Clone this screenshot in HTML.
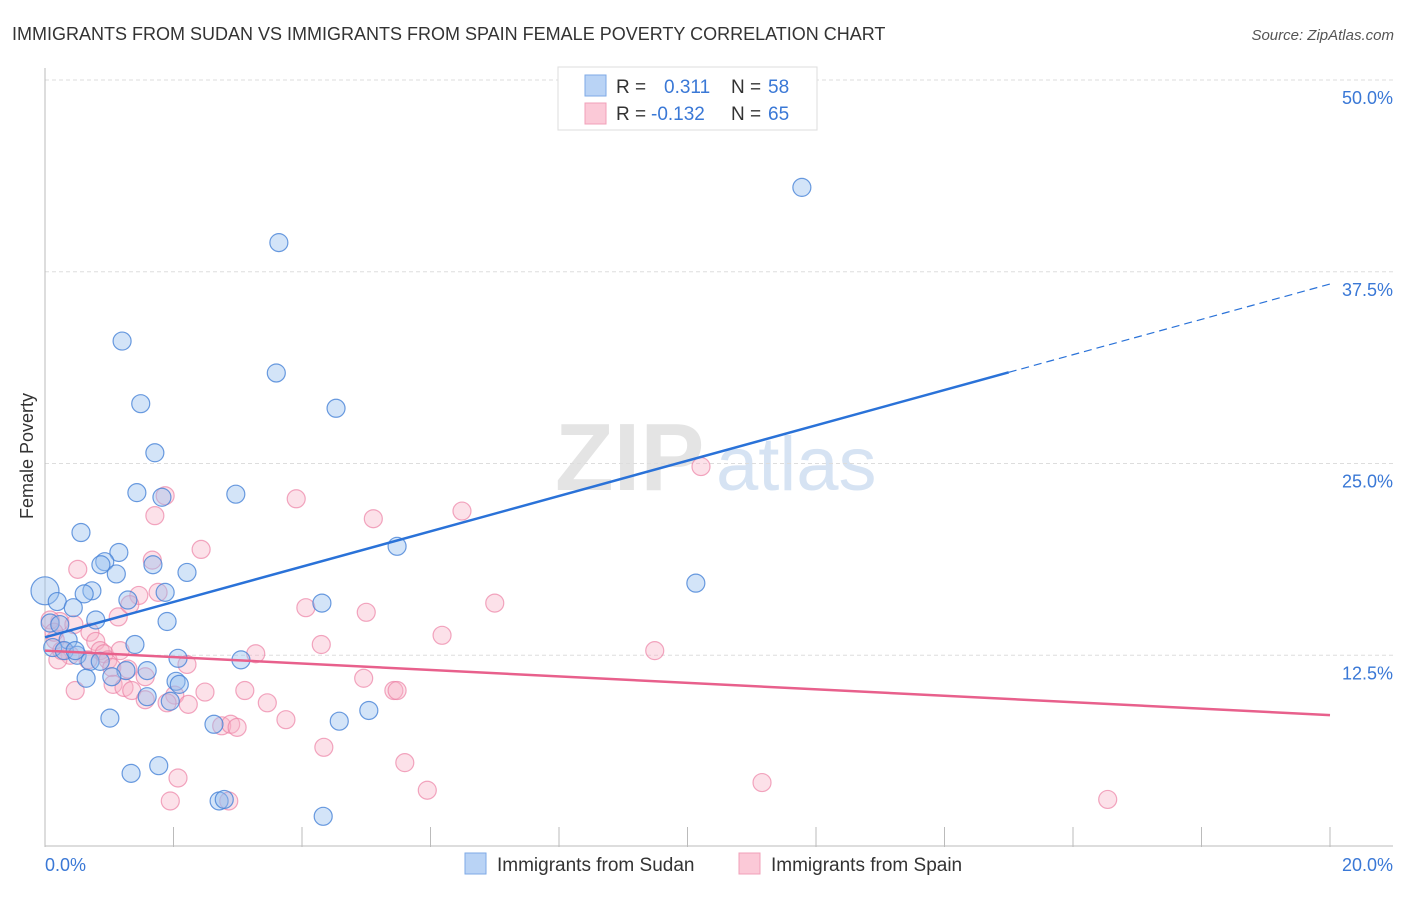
<!DOCTYPE html>
<html><head><meta charset="utf-8"><style>
body{margin:0;background:#fff;font-family:"Liberation Sans",sans-serif;}
svg text{font-family:"Liberation Sans",sans-serif;}
</style></head><body>
<svg id="chart" width="1406" height="892" viewBox="0 0 1406 892">
<text x="12" y="40" font-size="18" fill="#333">IMMIGRANTS FROM SUDAN VS IMMIGRANTS FROM SPAIN FEMALE POVERTY CORRELATION CHART</text>
<text x="1394" y="40" font-size="15" fill="#555" font-style="italic" text-anchor="end">Source: ZipAtlas.com</text>
<text x="33" y="456" font-size="18" fill="#333" text-anchor="middle" transform="rotate(-90 33 456)">Female Poverty</text>
<g>
<text x="555" y="490" font-size="96" fill="#e4e4e4" font-family="Liberation Serif" font-weight="bold">ZIP</text>
<text x="716" y="490" font-size="76" fill="#d6e3f3">atlas</text>
</g>
<g id="grid"></g>
<g id="axes"></g>
<g id="pts"></g>
<g id="lines"></g>
<g>
<rect x="558" y="67" width="259" height="63" fill="#fff" stroke="#ddd"/>
<rect x="585" y="75" width="21" height="21" fill="#b9d3f5" stroke="#7ea9e6"/>
<rect x="585" y="103" width="21" height="21" fill="#fbc9d7" stroke="#f0a0b8"/>
<text x="616" y="93" font-size="19" fill="#333">R =</text><text x="664" y="93" font-size="19" fill="#3a78d6">0.311</text>
<text x="731" y="93" font-size="19" fill="#333">N =</text><text x="768" y="93" font-size="19" fill="#3a78d6">58</text>
<text x="616" y="120" font-size="19" fill="#333">R =</text><text x="651" y="120" font-size="19" fill="#3a78d6">-0.132</text>
<text x="731" y="120" font-size="19" fill="#333">N =</text><text x="768" y="120" font-size="19" fill="#3a78d6">65</text>
</g>
<g>
<rect x="465" y="853" width="21" height="21" fill="#b9d3f5" stroke="#7ea9e6"/>
<text x="497" y="871" font-size="19" fill="#333">Immigrants from Sudan</text>
<rect x="739" y="853" width="21" height="21" fill="#fbc9d7" stroke="#f0a0b8"/>
<text x="771" y="871" font-size="19" fill="#333">Immigrants from Spain</text>
</g>
</svg>
<script>
const yTicks=[12.5,25,37.5,50];
const yTickLabels=["12.5%","25.0%","37.5%","50.0%"];
const xTickLabels=["0.0%","20.0%"];
const sudanX=[11.78,3.64,1.20,3.60,1.49,4.53,1.71,1.43,2.97,1.82,0.56,5.48,1.15,0.93,0.87,1.11,2.21,10.13,0,0.73,0.61,0.19,1.29,4.31,0.44,1.87,1.68,0.79,1.90,0.08,0.23,1.40,0.36,0.12,0.30,0.50,0.70,0.86,2.07,3.05,1.26,1.59,1.04,0.64,2.04,2.09,1.59,1.95,1.01,2.63,4.58,5.04,1.34,1.77,2.71,2.79,4.33,0.47];
const sudanY=[43.0,39.4,32.98,30.9,28.9,28.6,25.7,23.1,23.0,22.8,20.5,19.6,19.2,18.6,18.4,17.8,17.9,17.2,16.7,16.7,16.5,16.0,16.1,15.9,15.6,16.6,18.4,14.8,14.7,14.6,14.5,13.2,13.5,13.0,12.8,12.5,12.1,12.1,12.3,12.2,11.5,11.5,11.1,11.0,10.8,10.6,9.8,9.5,8.4,8.0,8.2,8.9,4.8,5.3,3.0,3.1,2.0,12.8];
const spainX=[10.21,1.87,3.91,1.71,5.11,6.49,2.43,1.67,0.51,1.76,1.46,4.06,5.00,7.00,1.14,1.32,6.18,0.70,0.79,4.30,3.28,9.49,0.23,0.08,0.16,0.86,0.92,0.98,0.39,0.20,0.67,2.21,1.04,1.29,1.56,1.06,1.23,1.35,2.02,2.49,3.11,1.56,1.90,2.23,3.46,4.96,5.43,5.48,3.75,2.75,2.89,2.99,4.34,5.60,2.07,5.95,11.16,1.95,2.86,16.54,0.47,0.45,1.17,0.26,0.14];
const spainY=[24.8,22.9,22.7,21.6,21.4,21.9,19.4,18.7,18.1,16.6,16.4,15.6,15.3,15.9,15.0,15.8,13.8,14.0,13.4,13.2,12.6,12.8,14.7,14.8,13.5,12.8,12.6,12.2,12.5,12.2,12.2,11.9,11.7,11.6,11.1,10.6,10.4,10.2,9.9,10.1,10.2,9.6,9.4,9.3,9.4,11.0,10.2,10.2,8.3,7.9,8.0,7.8,6.5,5.5,4.5,3.7,4.2,3.0,3.0,3.1,10.2,14.5,12.8,12.8,14.0];
const sudanTrend=[13.67,36.7];
const spainTrend=[12.8,8.6];
const sudanSolidEnd=15.0;

const NS="http://www.w3.org/2000/svg";
const X0=45,X1=1330,Y0=847,Y50=80;
const sx=v=>X0+(X1-X0)*v/20;
const sy=v=>Y0-(Y0-Y50)*v/50;
function mk(tag,attrs,parent){const e=document.createElementNS(NS,tag);for(const k in attrs)e.setAttribute(k,attrs[k]);parent.appendChild(e);return e;}
const grid=document.getElementById('grid'),axes=document.getElementById('axes'),pts=document.getElementById('pts'),lines=document.getElementById('lines');
yTicks.forEach((t,i)=>{
 const l=mk('line',{x1:X0,x2:1393,y1:sy(t),y2:sy(t),stroke:'#ddd','stroke-dasharray':'4,3'},grid);
 
 
 const tx=mk('text',{x:1393,y:sy(t)+24,'font-size':18,fill:'#3a78d6','text-anchor':'end'},axes);
 tx.textContent=yTickLabels[i];
 
 
});
const ya=mk('line',{x1:X0,x2:X0,y1:68,y2:Y0,stroke:'#bbb'},axes);


const xa=mk('line',{x1:X0,x2:1393,y1:Y0-1,y2:Y0-1,stroke:'#bbb'},axes);


for(let i=0;i<=10;i++){
 const t=mk('line',{x1:sx(i*2),x2:sx(i*2),y1:Y0-20,y2:Y0,stroke:'#bbb'},axes);
 
 
}
[[0,'start'],[20,'end']].forEach((p,i)=>{
 const tx=mk('text',{x:p[0]==0?X0:1393,y:871,'font-size':18,fill:'#3a78d6','text-anchor':p[1]},axes);
 tx.textContent=xTickLabels[i];
 
 
});
function dots(xs,ys,fill,stroke,name){
 xs.forEach((x,i)=>{
  const r=(x===0&&name==='sudan-point')?14:9;
  const c=mk('circle',{cx:sx(x),cy:sy(ys[i]),r:r,fill:fill,stroke:stroke,'stroke-width':1.2},pts);
  
  
 });
}
dots(spainX,spainY,'rgba(248,175,198,0.38)','rgba(236,130,165,0.7)','spain-point');
dots(sudanX,sudanY,'rgba(150,190,238,0.42)','rgba(70,130,215,0.8)','sudan-point');
const bAt=v=>sudanTrend[0]+(sudanTrend[1]-sudanTrend[0])*v/20;
const l1=mk('line',{x1:sx(0),y1:sy(bAt(0)),x2:sx(sudanSolidEnd),y2:sy(bAt(sudanSolidEnd)),stroke:'#2a72d8','stroke-width':2.5},lines);


const l2=mk('line',{x1:sx(sudanSolidEnd),y1:sy(bAt(sudanSolidEnd)),x2:sx(20),y2:sy(bAt(20)),stroke:'#2a72d8','stroke-width':1.2,'stroke-dasharray':'8,5'},lines);


const l3=mk('line',{x1:sx(0),y1:sy(spainTrend[0]),x2:sx(20),y2:sy(spainTrend[1]),stroke:'#e8608c','stroke-width':2.5},lines);


</script>
</body></html>
